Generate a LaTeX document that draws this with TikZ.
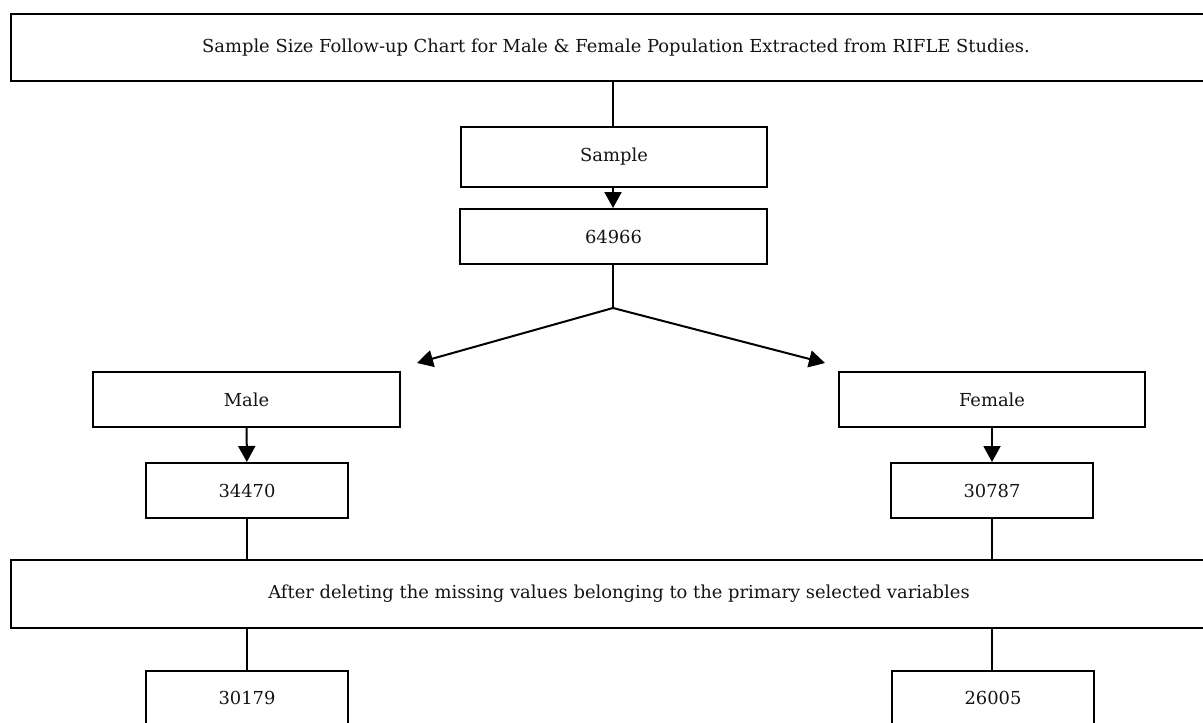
\documentclass[tikz,border=0pt]{standalone}
\usepackage{fontspec}
\setmainfont{DejaVu Serif}
\usetikzlibrary{arrows.meta}
\begin{document}
\begin{tikzpicture}[x=0.5pt,y=-0.5pt,
  box/.style={draw=black,line width=1pt,inner sep=0pt,font=\fontsize{8.95}{11}\selectfont,text=black!92},
  conn/.style={line width=1pt,draw=black},
  arr/.style={conn,-{Triangle[length=8pt,width=8.5pt]}}]
\useasboundingbox (0,0) rectangle (1203,722);
\clip (0,0) rectangle (1203,722);
\node[box,line width=1.3pt,minimum width=605pt,minimum height=33.5pt] (title) at (616,47.5)
  {Sample Size Follow-up Chart for Male \& Female Population Extracted from RIFLE Studies.};
\node[box,minimum width=153pt,minimum height=30pt] (sample) at (614,157) {Sample};
\node[box,minimum width=153.5pt,minimum height=27.5pt] (n64966) at (613.5,236.5) {64966};
\coordinate (junc) at (613,308);
\coordinate (tipL) at (417,363);
\coordinate (tipR) at (825,363);
\node[box,minimum width=153.5pt,minimum height=27.5pt] (male) at (246.5,399.5) {Male};
\node[box,minimum width=101pt,minimum height=27.5pt] (n34470) at (247,490.5) {34470};
\node[box,minimum width=153pt,minimum height=27.5pt] (female) at (992,399.5) {Female};
\node[box,minimum width=101pt,minimum height=27.5pt] (n30787) at (992,490.5) {30787};
\node[box,line width=1.3pt,minimum width=608pt,minimum height=34pt] (after) at (619,594)
  {After deleting the missing values belonging to the primary selected variables};
\node[box,minimum width=101pt,minimum height=27.5pt] (n30179) at (247,698) {30179};
\node[box,minimum width=101pt,minimum height=27.5pt] (n26005) at (993,698) {26005};
\draw[conn] (title.south -| junc) -- (sample.north -| junc);
\draw[arr] (sample.south -| junc) -- (n64966.north -| junc);
\draw[conn] (n64966.south -| junc) -- (junc);
\draw[arr] (junc) -- (tipL);
\draw[arr] (junc) -- (tipR);
\draw[arr] (male) -- (n34470);
\draw[arr] (female) -- (n30787);
\draw[conn] (n34470) -- (n34470 |- after.north);
\draw[conn] (n30787) -- (n30787 |- after.north);
\draw[conn] (n34470 |- after.south) -- (n30179);
\draw[conn] (n30787 |- after.south) -- (n30787 |- n26005.north);
\end{tikzpicture}
\end{document}
